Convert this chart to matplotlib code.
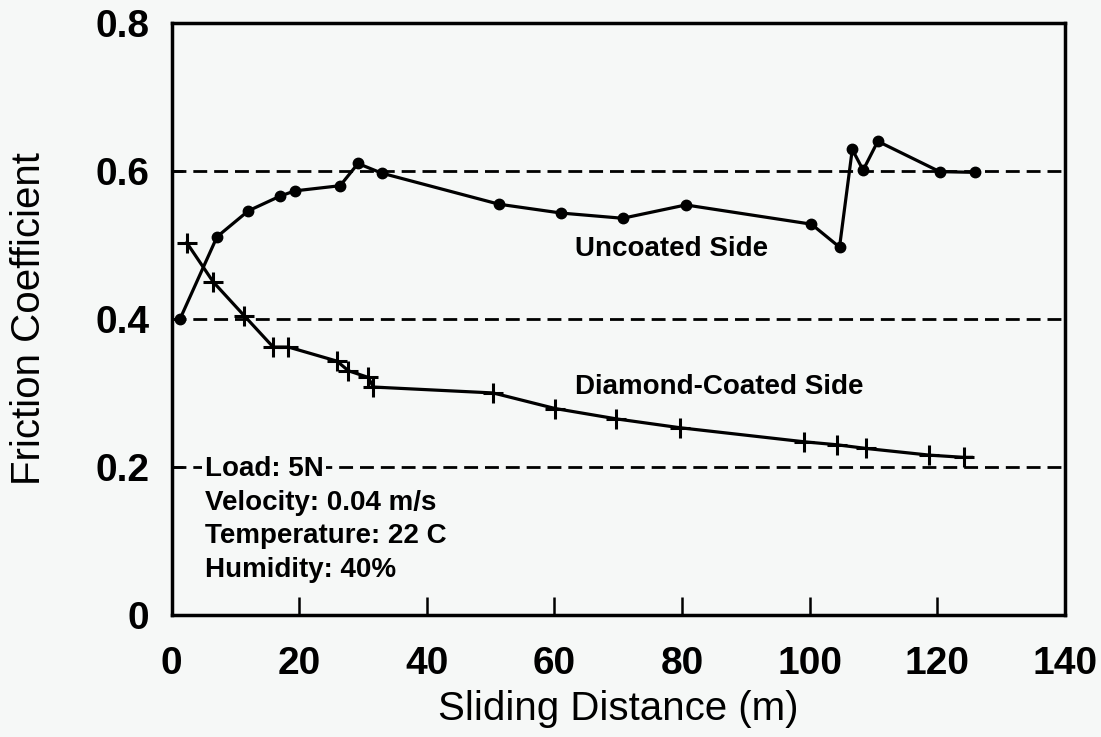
import matplotlib
matplotlib.use("Agg")
import matplotlib.pyplot as plt

# Uncoated side (filled circles)
uncoated_x = [1.3, 7.1, 12.0, 17.0, 19.3, 26.4, 29.2, 32.9, 51.3, 61.1, 70.7, 80.6,
              100.3, 104.7, 106.7, 108.4, 110.7, 120.4, 126.0]
uncoated_y = [0.40, 0.511, 0.546, 0.566, 0.573, 0.580, 0.610, 0.597, 0.555, 0.543, 0.536, 0.554,
              0.528, 0.497, 0.629, 0.601, 0.640, 0.599, 0.598]

# Diamond-coated side (plus markers)
coated_x = [2.35, 6.5, 11.4, 15.9, 18.3, 25.9, 27.7, 30.8, 31.6, 50.4, 60.1, 69.7, 79.7,
            99.2, 104.3, 108.9, 118.8, 124.2]
coated_y = [0.503, 0.450, 0.404, 0.362, 0.362, 0.343, 0.330, 0.321, 0.308, 0.300, 0.279, 0.265, 0.253,
            0.234, 0.230, 0.225, 0.216, 0.213]
coated_end_x = 125.4
coated_end_y = 0.213

xticks = [0, 20, 40, 60, 80, 100, 120, 140]
yticks = [0, 0.2, 0.4, 0.6, 0.8]
ytick_labels = ["0", "0.2", "0.4", "0.6", "0.8"]
grid_levels = [0.2, 0.4, 0.6]

conditions = ["Load: 5N", "Velocity: 0.04 m/s", "Temperature: 22 C", "Humidity: 40%"]

bg = "#f6f8f7"
plt.rcParams['font.family'] = ['Liberation Sans', 'DejaVu Sans']

fig = plt.figure(figsize=(11.01, 7.37), dpi=100, facecolor=bg)
ax = fig.add_axes([0.156, 0.1655, 0.811, 0.8035], facecolor=bg)

for g in grid_levels:
    ax.axhline(g, color='black', lw=2.0, ls=(0, (5, 2.5)), zorder=1)

ax.plot(uncoated_x, uncoated_y, color='black', lw=2.3, marker='o', ms=7.5, zorder=3)
ax.plot(coated_x + [coated_end_x], coated_y + [coated_end_y], color='black', lw=2.3, zorder=3)
ax.plot(coated_x, coated_y, ls='none', color='black', marker='+', ms=14, mew=2.2, zorder=3)

ax.set_xlim(0, 140)
ax.set_ylim(0, 0.8)
ax.set_xticks(xticks)
ax.set_xticklabels([str(v) for v in xticks], fontweight='bold')
ax.set_yticks(yticks)
ax.set_yticklabels(ytick_labels, fontweight='bold')
ax.tick_params(axis='x', direction='in', length=13, width=1.8, pad=22, labelsize=28)
ax.tick_params(axis='y', direction='in', length=8, width=1.8, pad=16, labelsize=28)
for s in ax.spines.values():
    s.set_linewidth(2.5)

ax.set_xlabel("Sliding Distance (m)", fontsize=29, fontweight='normal', labelpad=6)
ax.set_ylabel("Friction Coefficient", fontsize=29, fontweight='normal', labelpad=34)

ax.text(63.2, 0.495, "Uncoated Side", fontsize=20, fontweight='bold', ha='left', va='center', zorder=4)
ax.text(63.2, 0.308, "Diamond-Coated Side", fontsize=20, fontweight='bold', ha='left', va='center', zorder=4)

ys = [0.197, 0.151, 0.107, 0.061]
for i, (t, yy) in enumerate(zip(conditions, ys)):
    kw = {}
    if i == 0:
        kw['bbox'] = dict(facecolor=bg, edgecolor='none', pad=2)
    ax.text(5.2, yy, t, fontsize=20, fontweight='bold', ha='left', va='center', zorder=4, **kw)

fig.savefig("out.png", dpi=100, facecolor=bg)
